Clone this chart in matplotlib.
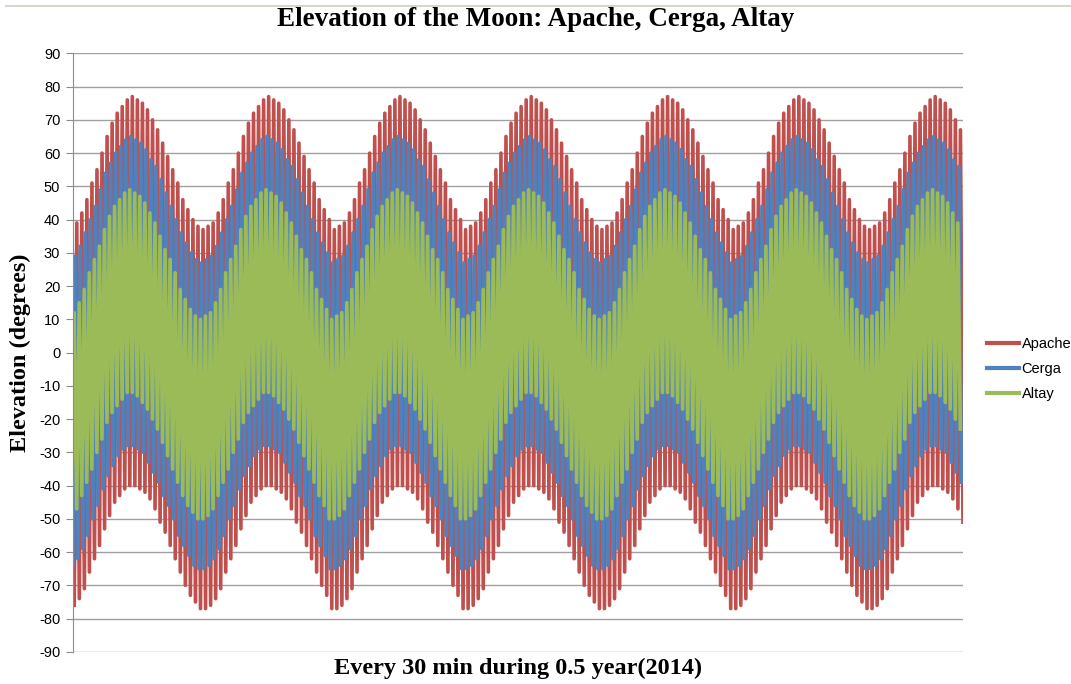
import numpy as np
import matplotlib.pyplot as plt
from matplotlib.lines import Line2D

plt.rcParams['axes.unicode_minus'] = False

# highest / lowest elevation of each lunar day (degrees)
apache_max = [
    39, 42, 46, 51, 55, 60, 65, 69, 72, 74, 76, 77, 76, 75, 73, 70, 67, 63, 59, 55, 51, 46, 43, 40, 38,
    37, 38, 39, 42, 46, 51, 55, 60, 65, 69, 72, 74, 76, 77, 76, 75, 73, 70, 67, 63, 59, 55, 51, 46, 43, 40,
    37, 38, 39, 42, 46, 51, 55, 60, 65, 69, 72, 74, 76, 77, 76, 75, 73, 70, 67, 63, 59, 55, 51, 46, 43, 40,
    37, 38, 39, 42, 46, 51, 55, 60, 65, 69, 72, 74, 76, 77, 76, 75, 73, 70, 67, 63, 59, 55, 51, 46, 43, 40, 38,
    37, 38, 39, 42, 46, 51, 55, 60, 65, 69, 72, 74, 76, 77, 76, 75, 73, 70, 67, 63, 59, 55, 51, 46, 43, 40,
    37, 38, 39, 42, 46, 51, 55, 60, 65, 69, 72, 74, 76, 77, 76, 75, 73, 70, 67, 63, 59, 55, 51, 46, 43, 40, 38,
    37, 38, 39, 42, 46, 51, 55, 60, 65, 69, 72, 74, 76, 77, 76, 75, 73, 70, 67,
]
apache_min = [
    -76, -74, -71, -66, -62, -58, -53, -49, -45, -43, -41, -40, -40, -41, -42, -44, -47, -51, -54, -58, -62, -66, -70, -73, -75,
    -77, -77, -76, -74, -71, -66, -62, -58, -53, -49, -45, -43, -41, -40, -40, -41, -42, -44, -47, -51, -54, -58, -62, -66, -70, -73,
    -77, -77, -76, -74, -71, -66, -62, -58, -53, -49, -45, -43, -41, -40, -40, -41, -42, -44, -47, -51, -54, -58, -62, -66, -70, -73,
    -77, -77, -76, -74, -71, -66, -62, -58, -53, -49, -45, -43, -41, -40, -40, -41, -42, -44, -47, -51, -54, -58, -62, -66, -70, -73, -75,
    -77, -77, -76, -74, -71, -66, -62, -58, -53, -49, -45, -43, -41, -40, -40, -41, -42, -44, -47, -51, -54, -58, -62, -66, -70, -73,
    -77, -77, -76, -74, -71, -66, -62, -58, -53, -49, -45, -43, -41, -40, -40, -41, -42, -44, -47, -51, -54, -58, -62, -66, -70, -73, -75,
    -77, -77, -76, -74, -71, -66, -62, -58, -53, -49, -45, -43, -41, -40, -40, -41, -42, -44, -47, -51,
]
cerga_max = [
    29, 32, 36, 40, 44, 49, 54, 57, 60, 62, 64, 65, 64, 63, 61, 58, 56, 52, 48, 44, 40, 36, 33, 30, 28,
    27, 28, 29, 32, 36, 40, 44, 49, 54, 57, 60, 62, 64, 65, 64, 63, 61, 58, 56, 52, 48, 44, 40, 36, 33, 30,
    27, 28, 29, 32, 36, 40, 44, 49, 54, 57, 60, 62, 64, 65, 64, 63, 61, 58, 56, 52, 48, 44, 40, 36, 33, 30,
    27, 28, 29, 32, 36, 40, 44, 49, 54, 57, 60, 62, 64, 65, 64, 63, 61, 58, 56, 52, 48, 44, 40, 36, 33, 30, 28,
    27, 28, 29, 32, 36, 40, 44, 49, 54, 57, 60, 62, 64, 65, 64, 63, 61, 58, 56, 52, 48, 44, 40, 36, 33, 30,
    27, 28, 29, 32, 36, 40, 44, 49, 54, 57, 60, 62, 64, 65, 64, 63, 61, 58, 56, 52, 48, 44, 40, 36, 33, 30, 28,
    27, 28, 29, 32, 36, 40, 44, 49, 54, 57, 60, 62, 64, 65, 64, 63, 61, 58, 56,
]
cerga_min = [
    -64, -62, -59, -55, -50, -46, -41, -37, -34, -31, -29, -28, -28, -29, -30, -33, -36, -39, -43, -46, -50, -55, -58, -61, -64,
    -65, -65, -64, -62, -59, -55, -50, -46, -41, -37, -34, -31, -29, -28, -28, -29, -30, -33, -36, -39, -43, -46, -50, -55, -58, -61,
    -65, -65, -64, -62, -59, -55, -50, -46, -41, -37, -34, -31, -29, -28, -28, -29, -30, -33, -36, -39, -43, -46, -50, -55, -58, -61,
    -65, -65, -64, -62, -59, -55, -50, -46, -41, -37, -34, -31, -29, -28, -28, -29, -30, -33, -36, -39, -43, -46, -50, -55, -58, -61, -64,
    -65, -65, -64, -62, -59, -55, -50, -46, -41, -37, -34, -31, -29, -28, -28, -29, -30, -33, -36, -39, -43, -46, -50, -55, -58, -61,
    -65, -65, -64, -62, -59, -55, -50, -46, -41, -37, -34, -31, -29, -28, -28, -29, -30, -33, -36, -39, -43, -46, -50, -55, -58, -61, -64,
    -65, -65, -64, -62, -59, -55, -50, -46, -41, -37, -34, -31, -29, -28, -28, -29, -30, -33, -36, -39,
]
altay_max = [
    12, 15, 19, 24, 28, 32, 37, 41, 44, 46, 48, 49, 48, 47, 45, 42, 39, 35, 31, 28, 24, 19, 16, 13, 11,
    10, 11, 12, 15, 19, 24, 28, 32, 37, 41, 44, 46, 48, 49, 48, 47, 45, 42, 39, 35, 31, 28, 24, 19, 16, 13,
    10, 11, 12, 15, 19, 24, 28, 32, 37, 41, 44, 46, 48, 49, 48, 47, 45, 42, 39, 35, 31, 28, 24, 19, 16, 13,
    10, 11, 12, 15, 19, 24, 28, 32, 37, 41, 44, 46, 48, 49, 48, 47, 45, 42, 39, 35, 31, 28, 24, 19, 16, 13, 11,
    10, 11, 12, 15, 19, 24, 28, 32, 37, 41, 44, 46, 48, 49, 48, 47, 45, 42, 39, 35, 31, 28, 24, 19, 16, 13,
    10, 11, 12, 15, 19, 24, 28, 32, 37, 41, 44, 46, 48, 49, 48, 47, 45, 42, 39, 35, 31, 28, 24, 19, 16, 13, 11,
    10, 11, 12, 15, 19, 24, 28, 32, 37, 41, 44, 46, 48, 49, 48, 47, 45, 42, 39,
]
altay_min = [
    -49, -47, -43, -39, -35, -30, -26, -21, -18, -16, -14, -12, -12, -13, -15, -17, -20, -23, -27, -31, -35, -39, -43, -46, -48,
    -50, -50, -49, -47, -43, -39, -35, -30, -26, -21, -18, -16, -14, -12, -12, -13, -15, -17, -20, -23, -27, -31, -35, -39, -43, -46,
    -50, -50, -49, -47, -43, -39, -35, -30, -26, -21, -18, -16, -14, -12, -12, -13, -15, -17, -20, -23, -27, -31, -35, -39, -43, -46,
    -50, -50, -49, -47, -43, -39, -35, -30, -26, -21, -18, -16, -14, -12, -12, -13, -15, -17, -20, -23, -27, -31, -35, -39, -43, -46, -48,
    -50, -50, -49, -47, -43, -39, -35, -30, -26, -21, -18, -16, -14, -12, -12, -13, -15, -17, -20, -23, -27, -31, -35, -39, -43, -46,
    -50, -50, -49, -47, -43, -39, -35, -30, -26, -21, -18, -16, -14, -12, -12, -13, -15, -17, -20, -23, -27, -31, -35, -39, -43, -46, -48,
    -50, -50, -49, -47, -43, -39, -35, -30, -26, -21, -18, -16, -14, -12, -12, -13, -15, -17, -20, -23,
]

names = ['Apache', 'Cerga', 'Altay']
highs = [apache_max, cerga_max, altay_max]
lows = [apache_min, cerga_min, altay_min]
colors = ['#C0504D', '#4F81BD', '#9BBB59']

n_samples = 8760      # one value every 30 min for half a year
lunar_day = 49.7      # samples between two transits of the Moon
first_high = 39
shifts = [0, -15, -26]  # sites at different longitudes


def zigzag(hi, lo, shift):
    hi = np.asarray(hi, float)
    lo = np.asarray(lo, float)
    x_hi = first_high + shift + np.arange(len(hi)) * lunar_day
    x_lo = first_high + shift + (np.arange(len(lo)) - 0.5) * lunar_day
    x = np.empty(len(hi) + len(lo))
    y = np.empty(len(hi) + len(lo))
    x[0::2], y[0::2] = x_lo, lo
    x[1::2], y[1::2] = x_hi, hi
    return x, y


fig = plt.figure(figsize=(10.71, 6.84), dpi=100)
ax = fig.add_axes([0.068, 0.047, 0.831, 0.875])

for name, hi, lo, c, s in zip(names, highs, lows, colors, shifts):
    x, y = zigzag(hi, lo, s)
    ax.plot(x, y, color=c, lw=2.6, label=name, solid_joinstyle='round')

ax.set_xlim(0, n_samples)
ax.set_ylim(-90, 90)
ax.set_yticks(np.arange(-90, 91, 10))
ax.set_xticks([])
ax.grid(axis='y', color='#a0a0a0', lw=1)
ax.set_axisbelow(True)
for side in ['top', 'right', 'bottom']:
    ax.spines[side].set_visible(False)
ax.spines['left'].set_color('#8c8c8c')
ax.tick_params(axis='y', length=5, color='#8c8c8c', labelsize=10.5, pad=4)
for lab in ax.get_yticklabels():
    lab.set_fontfamily('Liberation Sans')

fig.text(0.5, 0.971, 'Elevation of the Moon: Apache, Cerga, Altay',
         ha='center', va='center', family='Liberation Serif',
         fontweight='bold', fontsize=19.5)
fig.text(0.019, 0.485, 'Elevation (degrees)', rotation=90, ha='center',
         va='center', family='Liberation Serif', fontweight='bold', fontsize=17.5)
fig.text(0.484, 0.023, 'Every 30 min during 0.5 year(2014)', ha='center',
         va='center', family='Liberation Serif', fontweight='bold', fontsize=17.5)

leg = ax.legend(loc='center left', bbox_to_anchor=(1.012, 0.473), frameon=False,
                handlelength=2.2, handletextpad=0.2, labelspacing=0.75,
                prop={'family': 'Liberation Sans', 'size': 10.5})
for h in leg.get_lines():
    h.set_linewidth(3)

fig.add_artist(Line2D([0.006, 1.0], [0.991, 0.991], color='#d9d5cc', lw=1.5))

fig.savefig('out.png', dpi=100)
